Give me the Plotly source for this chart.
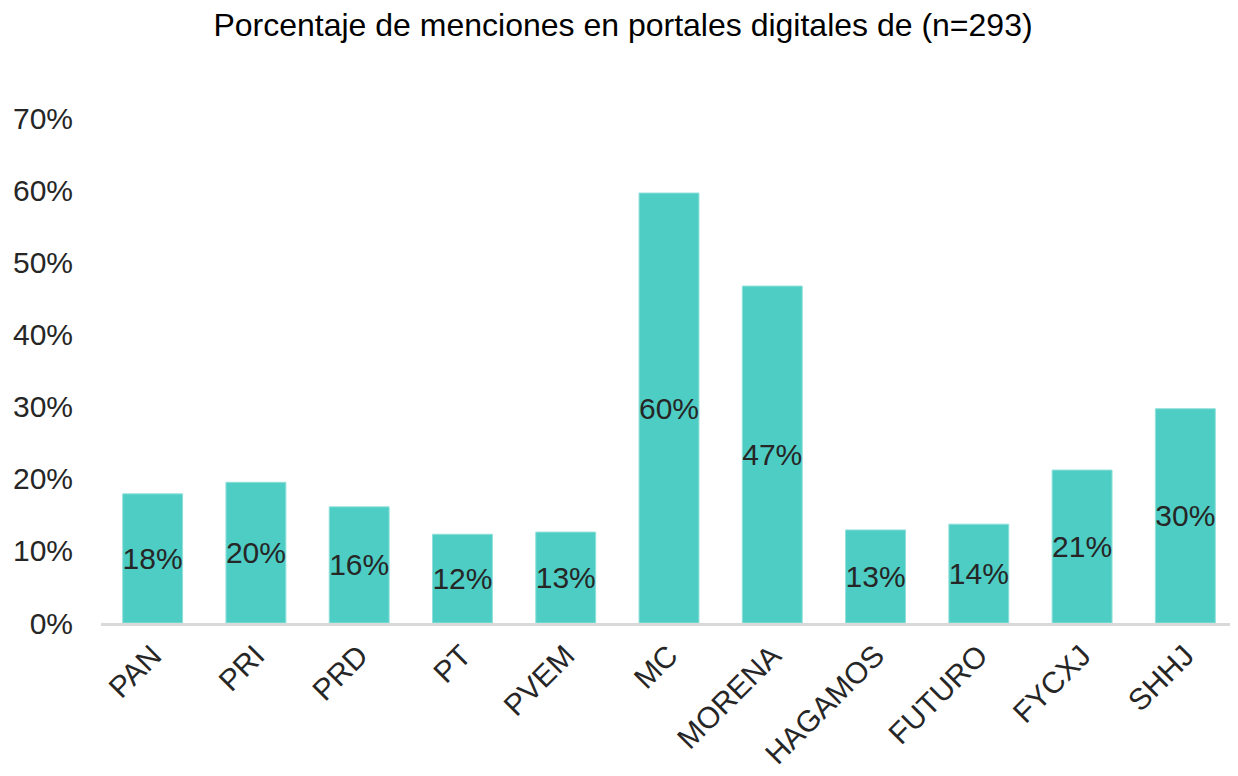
import plotly.graph_objects as go

categories = ["PAN", "PRI", "PRD", "PT", "PVEM", "MC", "MORENA", "HAGAMOS", "FUTURO", "FYCXJ", "SHHJ"]
values = [17.9, 19.5, 16.1, 12.3, 12.6, 59.6, 46.7, 12.9, 13.7, 21.2, 29.7]
labels = ["18%", "20%", "16%", "12%", "13%", "60%", "47%", "13%", "14%", "21%", "30%"]
tick_vals = [0, 10, 20, 30, 40, 50, 60, 70]
tick_text = ["0%", "10%", "20%", "30%", "40%", "50%", "60%", "70%"]

font_family = "Liberation Sans, Arial, sans-serif"

fig = go.Figure(go.Bar(
    x=categories,
    y=values,
    text=labels,
    textposition="inside",
    insidetextanchor="middle",
    textangle=0,
    textfont=dict(family=font_family, size=30, color="#262626"),
    marker=dict(color="#4ECDC4", line=dict(color="#8fe0da", width=1)),
    cliponaxis=False,
))

fig.update_layout(
    width=1230,
    height=768,
    paper_bgcolor="white",
    plot_bgcolor="white",
    margin=dict(l=93, r=1, t=110, b=153),
    bargap=0.42,
    showlegend=False,
    uniformtext=dict(minsize=30, mode="show"),
    title=dict(
        text="Porcentaje de menciones en portales digitales de (n=293)",
        x=0.5, xanchor="center", y=0.978, yanchor="middle",
        font=dict(family=font_family, size=32, color="#000000"),
    ),
    xaxis=dict(
        showline=True, linecolor="#d9d9d9", linewidth=3,
        tickangle=-45,
        tickfont=dict(family=font_family, size=30, color="#262626"),
        showgrid=False, zeroline=False, ticks="",
    ),
    yaxis=dict(
        range=[0, 70],
        tickvals=tick_vals, ticktext=tick_text,
        tickfont=dict(family=font_family, size=30, color="#262626"),
        showgrid=False, zeroline=False, showline=False, ticks="",
        ticklabelstandoff=27,
    ),
)

fig.write_html("out.html")
